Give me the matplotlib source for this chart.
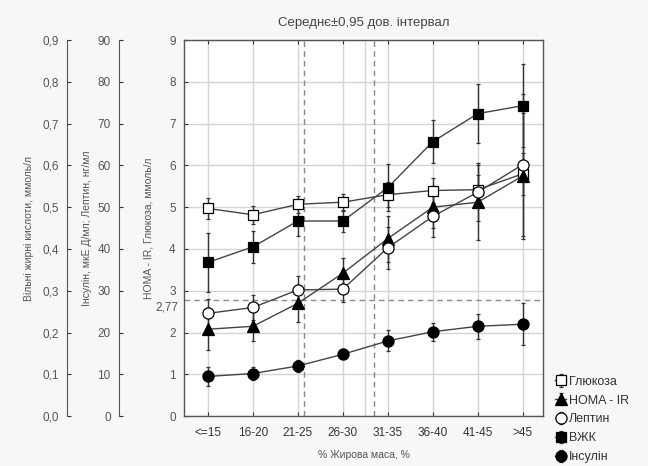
import numpy as np
import matplotlib.pyplot as plt
from matplotlib.ticker import FuncFormatter

plt.rcParams['font.family'] = ['Liberation Sans', 'DejaVu Sans']

# Дані
categories = ["<=15", "16-20", "21-25", "26-30", "31-35", "36-40", "41-45", ">45"]

glucose = [4.97, 4.82, 5.07, 5.12, 5.30, 5.40, 5.42, 5.80]
glucose_err = [0.25, 0.22, 0.20, 0.20, 0.30, 0.30, 0.35, 0.50]

homa = [2.08, 2.15, 2.70, 3.42, 4.25, 5.00, 5.12, 5.75]
homa_err = [0.50, 0.35, 0.45, 0.37, 0.55, 0.50, 0.90, 1.50]

leptin = [2.46, 2.60, 3.02, 3.04, 4.03, 4.78, 5.36, 6.02]
leptin_err = [0.35, 0.30, 0.33, 0.30, 0.50, 0.50, 0.70, 1.70]

vzhk = [3.68, 4.05, 4.67, 4.67, 5.47, 6.57, 7.24, 7.43]
vzhk_err = [0.70, 0.38, 0.35, 0.27, 0.56, 0.52, 0.70, 1.00]

insulin = [0.95, 1.02, 1.20, 1.48, 1.80, 2.02, 2.15, 2.20]
insulin_err = [0.22, 0.15, 0.15, 0.12, 0.25, 0.22, 0.30, 0.50]

cutoff_y = 2.77
cutoff_x = [2.13, 3.69]

txt = '#555555'
line_c = '#444444'
grid_c = '#d4d4d4'

fig = plt.figure(figsize=(6.48, 4.66), dpi=100, facecolor='#f7f7f7')
ax = fig.add_axes([0.284, 0.107, 0.554, 0.807])
ax.set_facecolor('white')

x = np.arange(len(categories))

series = [
    ("Глюкоза", glucose, glucose_err, 's', 'white'),
    ("HOMA - IR", homa, homa_err, '^', 'black'),
    ("Лептин", leptin, leptin_err, 'o', 'white'),
    ("ВЖК", vzhk, vzhk_err, 's', 'black'),
    ("Інсулін", insulin, insulin_err, 'o', 'black'),
]

handles = []
for name, vals, err, mk, fc in series:
    h = ax.errorbar(x, vals, yerr=err, fmt='-' + mk, color=line_c, lw=1.0,
                    marker=mk, ms=8 if mk != 's' else 7.5, mfc=fc, mec='black', mew=0.9,
                    ecolor='#333333', elinewidth=1.0, capsize=1.5, zorder=3, label=name)
    handles.append(h)

# Пунктирні лінії
ax.axhline(cutoff_y, color='#888888', ls=(0, (4, 3)), lw=1.0, zorder=2)
for cx in cutoff_x:
    ax.axvline(cx, color='#888888', ls=(0, (4, 3)), lw=1.0, zorder=2)
ax.axvline(3.5, color=grid_c, lw=1.0, zorder=1)

ax.set_xlim(-0.53, 7.45)
ax.set_ylim(0, 9)
ax.set_xticks(x)
ax.set_xticklabels(categories, fontsize=9, color='#333333')
ax.set_yticks(np.arange(0, 10, 1))
ax.tick_params(axis='both', direction='in', length=3, colors='#333333', labelsize=8.5,
               top=True, right=True)
ax.tick_params(axis='y', labelcolor=txt, pad=6)
ax.tick_params(axis='x', pad=8)
ax.grid(True, color=grid_c, lw=1.0, zorder=0)
ax.set_axisbelow(True)
for s in ax.spines.values():
    s.set_color('#555555')
    s.set_linewidth(1.0)

ax.text(-0.015, cutoff_y - 0.16, "2,77", transform=ax.get_yaxis_transform(),
        ha='right', va='center', fontsize=8.5, color=txt)

ax.set_title("Середнє±0,95 дов. інтервал", fontsize=9.5, color='#444444', pad=10)
ax.set_xlabel("% Жирова маса, %", fontsize=7.5, color=txt, labelpad=8)
ax.set_ylabel("HOMA - IR, Глюкоза, ммоль/л", fontsize=7.5, color=txt, labelpad=11)


def extra_axis(pos, top, step, fmt, label, labelpad):
    a = ax.twinx()
    a.spines['left'].set_position(('axes', pos))
    a.spines['left'].set_visible(True)
    a.spines['left'].set_color('#555555')
    for s in ['right', 'top', 'bottom']:
        a.spines[s].set_visible(False)
    a.yaxis.set_ticks_position('left')
    a.yaxis.set_label_position('left')
    a.set_ylim(0, top)
    a.set_yticks(np.arange(0, top + step / 2, step))
    a.yaxis.set_major_formatter(FuncFormatter(fmt))
    a.tick_params(axis='y', direction='in', length=3, colors='#333333',
                  labelcolor=txt, labelsize=8.5, pad=6)
    a.set_ylabel(label, fontsize=7.5, color=txt, labelpad=labelpad)
    return a


extra_axis(-0.181, 90, 10, lambda v, p: f"{v:.0f}",
           "Інсулін, мкЕ Д/мл; Лептин, нг/мл", 4)
extra_axis(-0.326, 0.9, 0.1, lambda v, p: f"{v:.1f}".replace('.', ','),
           "Вільні жирні кислоти, ммоль/л", 6)

fig.legend(handles=handles, loc='lower left', bbox_to_anchor=(0.845, -0.01),
           frameon=False, fontsize=9, handlelength=0.9, handletextpad=0.2,
           labelspacing=0.55, borderaxespad=0.2, labelcolor='#333333')

fig.savefig("out.png", dpi=100, facecolor=fig.get_facecolor())
